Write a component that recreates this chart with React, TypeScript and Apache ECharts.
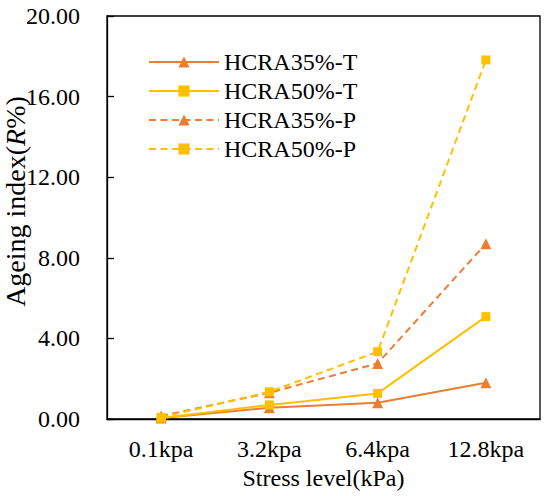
import React, { useEffect, useRef } from "react";
import * as echarts from "echarts";

const categories = ["0.1kpa", "3.2kpa", "6.4kpa", "12.8kpa"];
const seriesNames = ["HCRA35%-T", "HCRA50%-T", "HCRA35%-P", "HCRA50%-P"];
const t35 = [0.05, 0.56, 0.81, 1.8];
const t50 = [0.05, 0.7, 1.27, 5.08];
const p35 = [0.15, 1.3, 2.76, 8.7];
const p50 = [0.08, 1.35, 3.34, 17.82];

const ORANGE = "#ED7D31";
const YELLOW = "#FFC000";
const FONT = "'Liberation Serif', 'Times New Roman', serif";

export default function App() {
  const ref = useRef<HTMLDivElement>(null);
  useEffect(() => {
    if (!ref.current) return;
    const chart = echarts.init(ref.current, undefined, { renderer: "svg" });
    const mk = (name: string, data: number[], color: string, dashed: boolean, symbol: string, size: number) => ({
      name,
      type: "line",
      data,
      symbol,
      symbolSize: size,
      itemStyle: { color },
      lineStyle: { color, width: 2, type: dashed ? [7, 4.5] : "solid" },
    });
    chart.setOption({
      animation: false,
      textStyle: { fontFamily: FONT, color: "#000" },
      grid: {
        left: 107,
        right: 10,
        top: 16,
        bottom: 77,
        outerBoundsMode: "none",
        containLabel: false,
        show: true,
        borderColor: "#000",
        borderWidth: 1.3,
      },
      legend: {
        orient: "vertical",
        left: 143,
        top: 45,
        itemWidth: 70,
        itemHeight: 14,
        itemGap: 5,
        textStyle: { fontFamily: FONT, fontSize: 24, color: "#000", lineHeight: 24 },
        data: seriesNames,
      },
      xAxis: {
        type: "category",
        data: categories,
        boundaryGap: true,
        axisLine: { lineStyle: { color: "#000", width: 1.3 } },
        axisTick: { inside: true, length: 7, lineStyle: { color: "#000", width: 1.3 } },
        axisLabel: { fontFamily: FONT, fontSize: 24, color: "#000", margin: 18 },
        name: "Stress level(kPa)",
        nameLocation: "middle",
        nameGap: 47,
        nameMoveOverlap: false,
        nameTextStyle: { fontFamily: FONT, fontSize: 24, color: "#000" },
      },
      yAxis: {
        type: "value",
        min: 0,
        max: 20,
        interval: 4,
        splitLine: { show: false },
        axisLine: { show: true, lineStyle: { color: "#000", width: 1.3 } },
        axisTick: { show: true, inside: true, length: 7, lineStyle: { color: "#000", width: 1.3 } },
        axisLabel: {
          fontFamily: FONT,
          fontSize: 24,
          color: "#000",
          margin: 27,
          formatter: (v: number) => v.toFixed(2),
        },
        name: "{a|Ageing index(}{b|R}{a|%)}",
        nameLocation: "middle",
        nameGap: 78,
        nameMoveOverlap: false,
        nameTextStyle: {
          fontFamily: FONT,
          fontSize: 28,
          color: "#000",
          padding: [0, 0, 0, 32],
          rich: {
            a: { fontFamily: FONT, fontSize: 28, color: "#000" },
            b: { fontFamily: FONT, fontSize: 28, color: "#000", fontStyle: "italic" },
          },
        },
      },
      series: [
        mk(seriesNames[0], t35, ORANGE, false, "triangle", 11),
        mk(seriesNames[1], t50, YELLOW, false, "rect", 9),
        mk(seriesNames[2], p35, ORANGE, true, "triangle", 11),
        mk(seriesNames[3], p50, YELLOW, true, "rect", 9),
      ],
    });
    return () => chart.dispose();
  }, []);
  return (
    <div
      ref={ref}
      style={{ position: "absolute", left: 0, top: 0, width: 550, height: 496, background: "#fff" }}
    />
  );
}
